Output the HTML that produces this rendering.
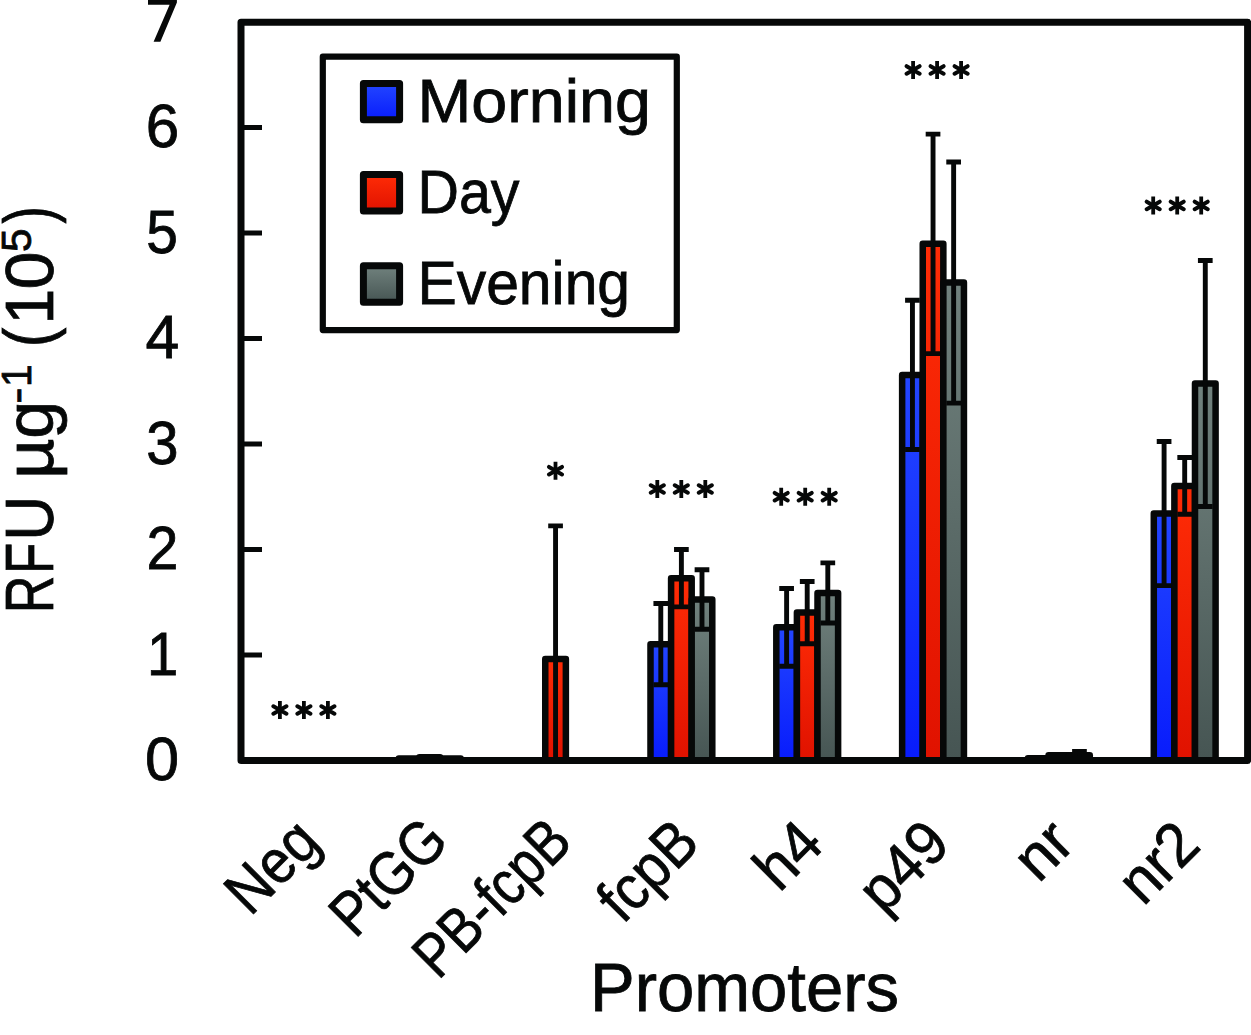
<!DOCTYPE html>
<html><head><meta charset="utf-8"><style>
html,body{margin:0;padding:0;background:#fff;}
body{width:1251px;height:1035px;overflow:hidden;}
svg{display:block;}
text{font-family:"Liberation Sans",sans-serif;fill:#060808;stroke:#060808;stroke-width:0.8px;}
</style></head><body>
<svg width="1251" height="1035" viewBox="0 0 1251 1035">
<defs>
<linearGradient id="gb" x1="0" y1="0" x2="0" y2="1"><stop offset="0" stop-color="#2346ff"/><stop offset="1" stop-color="#081cfc"/></linearGradient>
<linearGradient id="gr" x1="0" y1="0" x2="0" y2="1"><stop offset="0" stop-color="#ff2c06"/><stop offset="1" stop-color="#e01200"/></linearGradient>
<linearGradient id="gg" x1="0" y1="0" x2="0" y2="1"><stop offset="0" stop-color="#71827e"/><stop offset="1" stop-color="#465553"/></linearGradient>
</defs>
<rect id="bg" width="1251" height="1035" fill="#fff"/>

<rect x="398.84" y="758.39" width="20.60" height="2.11" fill="url(#gb)" stroke="#060808" stroke-width="6.5" stroke-linejoin="round"/>
<rect x="419.44" y="757.34" width="20.60" height="3.16" fill="url(#gr)" stroke="#060808" stroke-width="6.5" stroke-linejoin="round"/>
<rect x="440.04" y="758.39" width="20.60" height="2.11" fill="url(#gg)" stroke="#060808" stroke-width="6.5" stroke-linejoin="round"/>
<rect x="545.26" y="659.01" width="20.60" height="101.49" fill="url(#gr)" stroke="#060808" stroke-width="6.5" stroke-linejoin="round"/>
<rect x="650.49" y="644.13" width="20.60" height="116.37" fill="url(#gb)" stroke="#060808" stroke-width="6.5" stroke-linejoin="round"/>
<rect x="671.09" y="578.20" width="20.60" height="182.30" fill="url(#gr)" stroke="#060808" stroke-width="6.5" stroke-linejoin="round"/>
<rect x="691.69" y="599.51" width="20.60" height="160.99" fill="url(#gg)" stroke="#060808" stroke-width="6.5" stroke-linejoin="round"/>
<rect x="776.31" y="627.36" width="20.60" height="133.14" fill="url(#gb)" stroke="#060808" stroke-width="6.5" stroke-linejoin="round"/>
<rect x="796.91" y="612.59" width="20.60" height="147.91" fill="url(#gr)" stroke="#060808" stroke-width="6.5" stroke-linejoin="round"/>
<rect x="817.51" y="592.97" width="20.60" height="167.53" fill="url(#gg)" stroke="#060808" stroke-width="6.5" stroke-linejoin="round"/>
<rect x="902.14" y="374.90" width="20.60" height="385.60" fill="url(#gb)" stroke="#060808" stroke-width="6.5" stroke-linejoin="round"/>
<rect x="922.74" y="243.87" width="20.60" height="516.63" fill="url(#gr)" stroke="#060808" stroke-width="6.5" stroke-linejoin="round"/>
<rect x="943.34" y="282.58" width="20.60" height="477.92" fill="url(#gg)" stroke="#060808" stroke-width="6.5" stroke-linejoin="round"/>
<rect x="1027.96" y="758.18" width="20.60" height="2.32" fill="url(#gb)" stroke="#060808" stroke-width="6.5" stroke-linejoin="round"/>
<rect x="1048.56" y="755.23" width="20.60" height="5.27" fill="url(#gr)" stroke="#060808" stroke-width="6.5" stroke-linejoin="round"/>
<rect x="1069.16" y="755.23" width="20.60" height="5.27" fill="url(#gg)" stroke="#060808" stroke-width="6.5" stroke-linejoin="round"/>
<rect x="1153.79" y="513.52" width="20.60" height="246.98" fill="url(#gb)" stroke="#060808" stroke-width="6.5" stroke-linejoin="round"/>
<rect x="1174.39" y="485.88" width="20.60" height="274.62" fill="url(#gr)" stroke="#060808" stroke-width="6.5" stroke-linejoin="round"/>
<rect x="1194.99" y="383.55" width="20.60" height="376.95" fill="url(#gg)" stroke="#060808" stroke-width="6.5" stroke-linejoin="round"/>
<path d="M555.56 760.50V525.87M548.21 525.87H562.91" stroke="#060808" stroke-width="4.9" fill="none"/>
<path d="M660.79 684.75V603.52M653.44 603.52H668.14M653.44 684.75H668.14" stroke="#060808" stroke-width="4.9" fill="none"/>
<path d="M681.39 606.89V549.50M674.04 549.50H688.74M674.04 606.89H688.74" stroke="#060808" stroke-width="4.9" fill="none"/>
<path d="M701.99 629.26V569.76M694.64 569.76H709.34M694.64 629.26H709.34" stroke="#060808" stroke-width="4.9" fill="none"/>
<path d="M786.61 666.18V588.54M779.26 588.54H793.96M779.26 666.18H793.96" stroke="#060808" stroke-width="4.9" fill="none"/>
<path d="M807.21 643.71V581.47M799.86 581.47H814.56M799.86 643.71H814.56" stroke="#060808" stroke-width="4.9" fill="none"/>
<path d="M827.81 623.03V562.90M820.46 562.90H835.16M820.46 623.03H835.16" stroke="#060808" stroke-width="4.9" fill="none"/>
<path d="M912.44 449.49V300.31M905.09 300.31H919.79M905.09 449.49H919.79" stroke="#060808" stroke-width="4.9" fill="none"/>
<path d="M933.04 353.59V134.15M925.69 134.15H940.39M925.69 353.59H940.39" stroke="#060808" stroke-width="4.9" fill="none"/>
<path d="M953.64 403.17V162.00M946.29 162.00H960.99M946.29 403.17H960.99" stroke="#060808" stroke-width="4.9" fill="none"/>
<path d="M1079.46 758.92V751.53M1072.11 751.53H1086.81M1072.11 758.92H1086.81" stroke="#060808" stroke-width="4.9" fill="none"/>
<path d="M1164.09 585.58V441.47M1156.74 441.47H1171.44M1156.74 585.58H1171.44" stroke="#060808" stroke-width="4.9" fill="none"/>
<path d="M1184.69 514.26V457.50M1177.34 457.50H1192.04M1177.34 514.26H1192.04" stroke="#060808" stroke-width="4.9" fill="none"/>
<path d="M1205.29 506.56V260.54M1197.94 260.54H1212.64M1197.94 506.56H1212.64" stroke="#060808" stroke-width="4.9" fill="none"/>
<path d="M241.0 655.00H262M241.0 549.50H262M241.0 444.00H262M241.0 338.50H262M241.0 233.00H262M241.0 127.50H262" stroke="#060808" stroke-width="5" fill="none"/>
<rect x="241.0" y="22.3" width="1006.60" height="738.20" fill="none" stroke="#060808" stroke-width="7" stroke-linejoin="round"/>
<path id="t7" d="M148 -2H176.9V2.6L160.4 41.7H153.6L169.6 4.7H148Z" fill="#060808"/>
<text id="t0" x="0" y="0" font-size="100" transform="translate(144.91,779.91) scale(0.6129,0.6088)" style="stroke-width:1.310px">0</text>
<text id="t1" x="0" y="0" font-size="100" transform="translate(147.12,674.50) scale(0.5613,0.6119)" style="stroke-width:1.364px">1</text>
<text id="t2" x="0" y="0" font-size="100" transform="translate(146.52,569.20) scale(0.5729,0.6187)" style="stroke-width:1.343px">2</text>
<text id="t3" x="0" y="0" font-size="100" transform="translate(146.19,463.80) scale(0.5800,0.6158)" style="stroke-width:1.338px">3</text>
<text id="t4" x="0" y="0" font-size="100" transform="translate(145.51,358.40) scale(0.6073,0.6177)" style="stroke-width:1.306px">4</text>
<text id="t5" x="0" y="0" font-size="100" transform="translate(146.32,252.80) scale(0.5695,0.6163)" style="stroke-width:1.349px">5</text>
<text id="t6" x="0" y="0" font-size="100" transform="translate(145.84,146.91) scale(0.6025,0.6059)" style="stroke-width:1.324px">6</text>
<rect x="322.8" y="56.7" width="354" height="273.4" fill="none" stroke="#060808" stroke-width="6.2" stroke-linejoin="round"/>
<rect x="363.4" y="83.4" width="36.2" height="36.4" fill="url(#gb)" stroke="#060808" stroke-width="7" stroke-linejoin="round"/>
<text id="L0" x="417.5" y="122.0" font-size="62" textLength="233.5" lengthAdjust="spacingAndGlyphs">Morning</text>
<rect x="363.4" y="174.6" width="36.2" height="36.4" fill="url(#gr)" stroke="#060808" stroke-width="7" stroke-linejoin="round"/>
<text id="L1" x="417.5" y="213.2" font-size="62" textLength="102" lengthAdjust="spacingAndGlyphs">Day</text>
<rect x="363.4" y="265.8" width="36.2" height="36.4" fill="url(#gg)" stroke="#060808" stroke-width="7" stroke-linejoin="round"/>
<text id="L2" x="417.5" y="304.4" font-size="62" textLength="212.6" lengthAdjust="spacingAndGlyphs">Evening</text>
<path d="M279.90 701.00V719.00M303.90 701.00V719.00M327.90 701.00V719.00M555.50 461.70V479.70M657.30 480.00V498.00M681.30 480.00V498.00M705.30 480.00V498.00M781.20 487.70V505.70M805.20 487.70V505.70M829.20 487.70V505.70M913.10 60.90V78.90M937.10 60.90V78.90M961.10 60.90V78.90M1153.20 196.40V214.40M1177.20 196.40V214.40M1201.20 196.40V214.40" stroke="#060808" stroke-width="3.8" fill="none"/>
<path d="M273.40 706.25L286.40 713.75M273.40 713.75L286.40 706.25M297.40 706.25L310.40 713.75M297.40 713.75L310.40 706.25M321.40 706.25L334.40 713.75M321.40 713.75L334.40 706.25M549.00 466.95L562.00 474.45M549.00 474.45L562.00 466.95M650.80 485.25L663.80 492.75M650.80 492.75L663.80 485.25M674.80 485.25L687.80 492.75M674.80 492.75L687.80 485.25M698.80 485.25L711.80 492.75M698.80 492.75L711.80 485.25M774.70 492.95L787.70 500.45M774.70 500.45L787.70 492.95M798.70 492.95L811.70 500.45M798.70 500.45L811.70 492.95M822.70 492.95L835.70 500.45M822.70 500.45L835.70 492.95M906.60 66.15L919.60 73.65M906.60 73.65L919.60 66.15M930.60 66.15L943.60 73.65M930.60 73.65L943.60 66.15M954.60 66.15L967.60 73.65M954.60 73.65L967.60 66.15M1146.70 201.65L1159.70 209.15M1146.70 209.15L1159.70 201.65M1170.70 201.65L1183.70 209.15M1170.70 209.15L1183.70 201.65M1194.70 201.65L1207.70 209.15M1194.70 209.15L1207.70 201.65" stroke="#060808" stroke-width="4" stroke-linecap="round" fill="none"/>
<text id="x0" x="0" y="0" font-size="62" text-anchor="end" textLength="102.2" lengthAdjust="spacingAndGlyphs" transform="translate(322.6,844.9) rotate(-45)">Neg</text>
<text id="x1" x="0" y="0" font-size="62" text-anchor="end" textLength="135.5" lengthAdjust="spacingAndGlyphs" transform="translate(450.8,843.6) rotate(-45)">PtGG</text>
<text id="x2" x="0" y="0" font-size="62" text-anchor="end" textLength="192.5" lengthAdjust="spacingAndGlyphs" transform="translate(574.4,844.6) rotate(-45)">PB-fcpB</text>
<text id="x3" x="0" y="0" font-size="62" text-anchor="end" textLength="112.2" lengthAdjust="spacingAndGlyphs" transform="translate(702.0,845.6) rotate(-45)">fcpB</text>
<text id="x4" x="0" y="0" font-size="62" text-anchor="end" textLength="66.1" lengthAdjust="spacingAndGlyphs" transform="translate(826.0,846.6) rotate(-45)">h4</text>
<text id="x5" x="0" y="0" font-size="62" text-anchor="end" textLength="97.6" lengthAdjust="spacingAndGlyphs" transform="translate(952.4,846.6) rotate(-45)">p49</text>
<text id="x6" x="0" y="0" font-size="62" text-anchor="end" textLength="54.4" lengthAdjust="spacingAndGlyphs" transform="translate(1077.0,845.6) rotate(-45)">nr</text>
<text id="x7" x="0" y="0" font-size="62" text-anchor="end" textLength="84.0" lengthAdjust="spacingAndGlyphs" transform="translate(1202.7,847.6) rotate(-45)">nr2</text>
<text id="ptitle" x="590" y="1011" font-size="68" textLength="309" lengthAdjust="spacingAndGlyphs">Promoters</text>
<g id="ytitle">
<text x="-5.62" y="0" font-size="68.5" transform="translate(53.1,608.9) rotate(-90) scale(0.7622,1)">R</text>
<text x="-5.62" y="0" font-size="68.5" transform="translate(53.1,569.9) rotate(-90) scale(0.7467,1)">F</text>
<text x="-5.28" y="0" font-size="68.5" transform="translate(53.1,535.9) rotate(-90) scale(0.9075,1)">U</text>
<text x="-4.68" y="0" font-size="68.5" transform="translate(53.1,474.3) rotate(-90) scale(1.0267,1)">µ</text>
<text x="-2.88" y="0" font-size="68.5" transform="translate(53.1,436.0) rotate(-90) scale(0.9966,1)">g</text>
<text x="-1.87" y="0" font-size="42" transform="translate(30.8,401.5) rotate(-90) scale(1.1605,1)">-</text>
<text x="-3.28" y="0" font-size="43" transform="translate(30.8,383.9) rotate(-90) scale(0.9493,1)">1</text>
<text x="-4.25" y="0" font-size="68.5" transform="translate(52.0,343.5) rotate(-90) scale(0.8589,1)">(</text>
<text x="-5.22" y="0" font-size="68.5" transform="translate(53.1,319.6) rotate(-90) scale(0.9379,1)">1</text>
<text x="-2.68" y="0" font-size="68.5" transform="translate(53.1,286.9) rotate(-90) scale(0.9986,1)">0</text>
<text x="-1.68" y="0" font-size="42" transform="translate(30.8,250.4) rotate(-90) scale(1.0094,1)">5</text>
<text x="-0.40" y="0" font-size="68.5" transform="translate(52.0,223.2) rotate(-90) scale(0.7488,1)">)</text>
</g>
</svg></body></html>
